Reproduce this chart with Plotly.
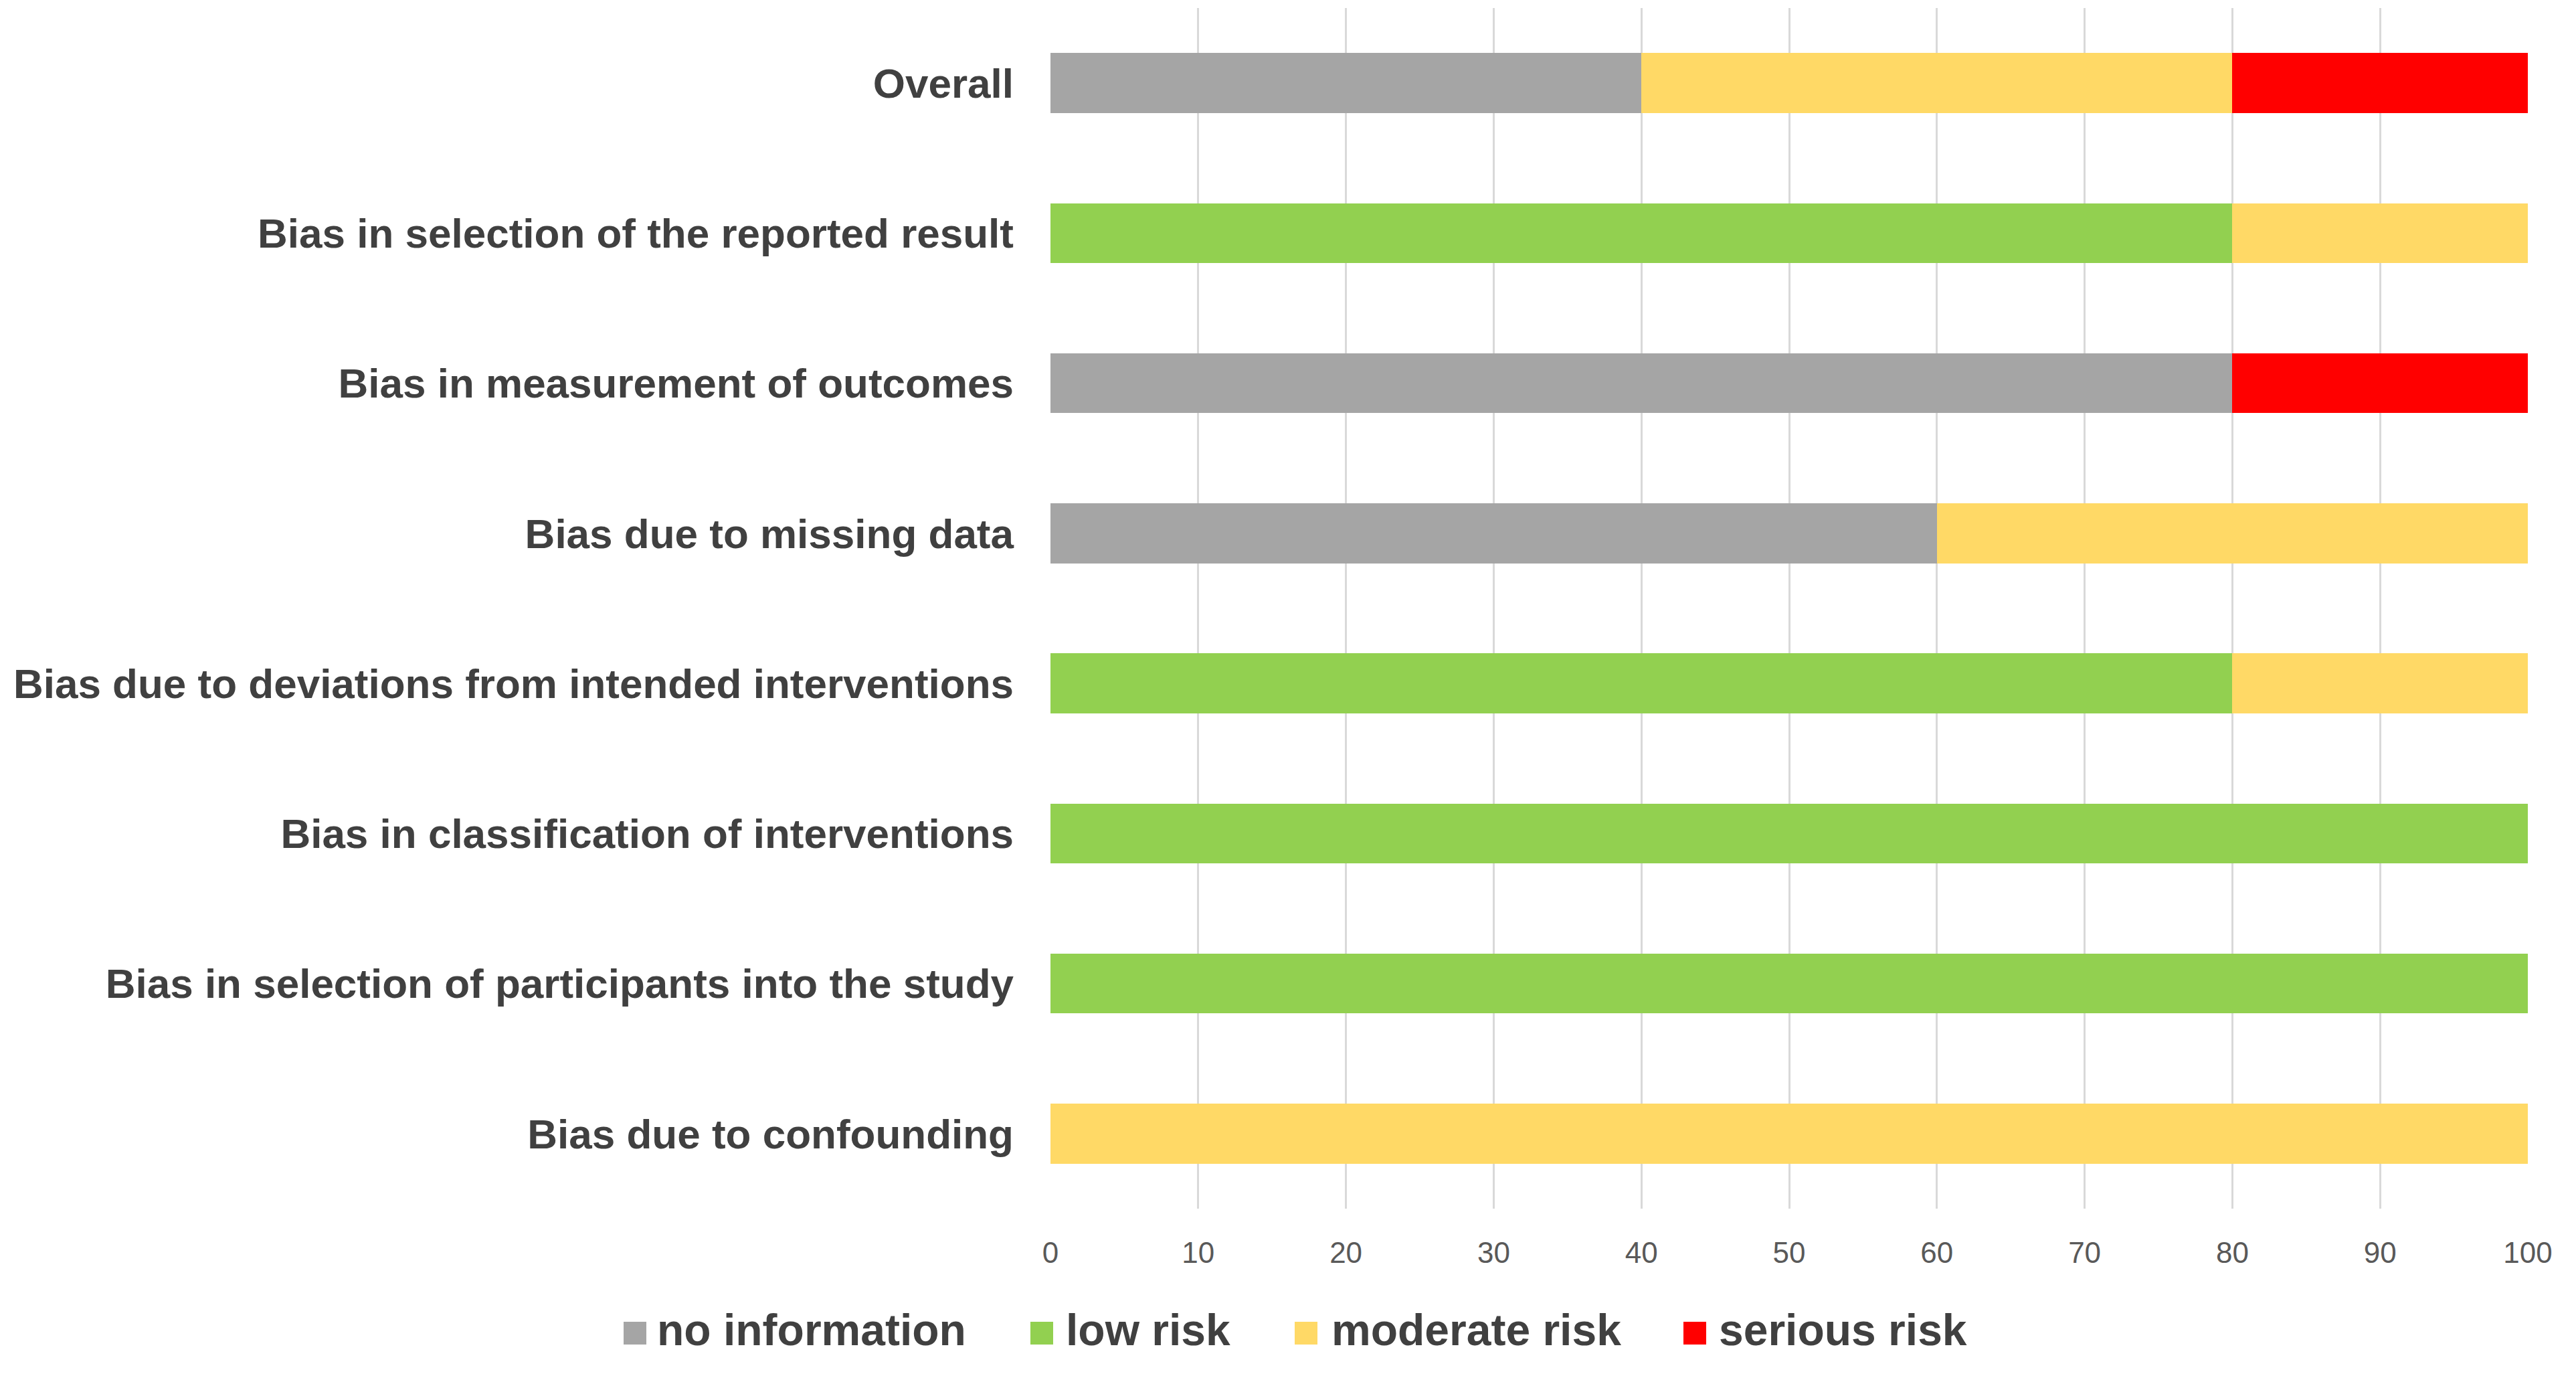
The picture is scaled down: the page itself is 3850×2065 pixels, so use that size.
import plotly.graph_objects as go

# categories top to bottom
categories = [
    "Overall",
    "Bias in selection of the reported result",
    "Bias in measurement of outcomes",
    "Bias due to missing data",
    "Bias due to deviations from intended interventions",
    "Bias in classification of interventions",
    "Bias in selection of participants into the study",
    "Bias due to confounding",
]
no_information = [40, 0, 80, 60, 0, 0, 0, 0]
low_risk = [0, 80, 0, 0, 80, 100, 100, 0]
moderate_risk = [40, 20, 0, 40, 20, 0, 0, 100]
serious_risk = [20, 0, 20, 0, 0, 0, 0, 0]

series_names = ["no information", "low risk", "moderate risk", "serious risk"]
series_values = [no_information, low_risk, moderate_risk, serious_risk]
series_colors = ["#A5A5A5", "#92D050", "#FFD966", "#FF0000"]
x_ticks = [0, 10, 20, 30, 40, 50, 60, 70, 80, 90, 100]

W, H = 3850, 2065
OFF = 8  # page body margin
L, R, T, B = 1562, 80, 4, 267
PW, PH = W - L - R, H - T - B
FONT = "Liberation Sans, Arial, sans-serif"


def px_x(px):
    return (px - OFF - L) / PW


def px_y(py):
    return (H - B - (py - OFF)) / PH


fig = go.Figure()
for name, vals, col in zip(series_names, series_values, series_colors):
    fig.add_trace(go.Bar(
        y=categories, x=vals, name=name, orientation="h",
        marker=dict(color=col, line=dict(width=0)),
        showlegend=False,
    ))

# legend drawn as squares + labels below the axis
leg_sq = [932, 1540, 1935, 2516]
leg_tx = [980, 1591, 1988, 2567]
for name, col, sx, tx in zip(series_names, series_colors, leg_sq, leg_tx):
    fig.add_shape(type="rect", xref="paper", yref="paper",
                  x0=px_x(sx), x1=px_x(sx + 34), y0=px_y(2009), y1=px_y(1975),
                  fillcolor=col, line=dict(width=0))
    fig.add_annotation(xref="paper", yref="paper", x=px_x(tx), y=px_y(1987),
                       xanchor="left", yanchor="middle", showarrow=False,
                       text="<b>%s</b>" % name,
                       font=dict(family=FONT, size=66, color="#404040"))

fig.update_layout(
    width=W, height=H,
    margin=dict(l=L, r=R, t=T, b=B, pad=0),
    barmode="stack", bargap=0.6,
    plot_bgcolor="white", paper_bgcolor="white",
    font=dict(family=FONT, color="#404040"),
)
fig.update_xaxes(
    range=[0, 100], tickvals=x_ticks, ticks="", showline=False, zeroline=False,
    showgrid=True, gridcolor="#D9D9D9", gridwidth=3,
    tickfont=dict(family=FONT, size=44, color="#595959"),
    ticklabelstandoff=36,
)
fig.update_yaxes(
    autorange="reversed", ticks="", showline=False, showgrid=False,
    tickfont=dict(family=FONT, size=62, color="#404040", weight="bold"),
    ticklabelstandoff=54,
)

fig.write_html("out.html")
